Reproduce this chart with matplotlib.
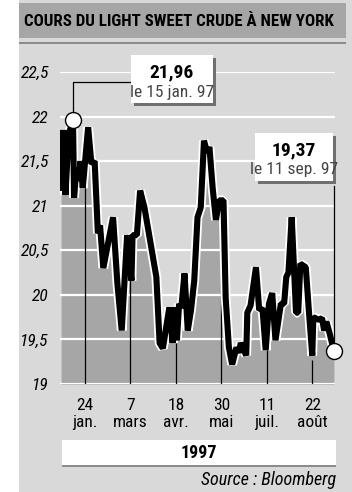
import matplotlib
matplotlib.use("Agg")
import matplotlib.pyplot as plt
import matplotlib.dates as mdates
import numpy as np
import pandas as pd
from matplotlib.patches import Rectangle
import logging
logging.getLogger("matplotlib.font_manager").setLevel(logging.ERROR)

# ---- data ----
dates = ["1997-01-02", "1997-01-04", "1997-01-06", "1997-01-09", "1997-01-13", "1997-01-14",
         "1997-01-16", "1997-01-18", "1997-01-20", "1997-01-22", "1997-01-27", "1997-01-30",
         "1997-02-02", "1997-02-05", "1997-02-07", "1997-02-10", "1997-02-19", "1997-02-23",
         "1997-02-27", "1997-03-04", "1997-03-08", "1997-03-09", "1997-03-13", "1997-03-16",
         "1997-03-20", "1997-03-31", "1997-04-03", "1997-04-06", "1997-04-12", "1997-04-15",
         "1997-04-17", "1997-04-19", "1997-04-21", "1997-04-23", "1997-04-26", "1997-04-29",
         "1997-05-02", "1997-05-05", "1997-05-08", "1997-05-11", "1997-05-14", "1997-05-17",
         "1997-05-19", "1997-05-22", "1997-05-25", "1997-05-28", "1997-06-01", "1997-06-03",
         "1997-06-06", "1997-06-09", "1997-06-13", "1997-06-15", "1997-06-17", "1997-06-22",
         "1997-06-23", "1997-06-26", "1997-07-01", "1997-07-04", "1997-07-07", "1997-07-10",
         "1997-07-13", "1997-07-16", "1997-07-19", "1997-07-24", "1997-07-27", "1997-07-29",
         "1997-07-31", "1997-08-03", "1997-08-07", "1997-08-09", "1997-08-11", "1997-08-16",
         "1997-08-19", "1997-08-22", "1997-08-23", "1997-08-28", "1997-08-31", "1997-09-02",
         "1997-09-04", "1997-09-07", "1997-09-11"]
prices = [21.20, 21.85, 21.12, 21.80, 21.96, 21.09,
          21.40, 21.28, 21.50, 21.20, 21.88, 21.47,
          21.50, 20.69, 20.78, 20.30, 20.87, 20.13,
          19.60, 20.67, 20.16, 20.67, 20.67, 21.17,
          20.98, 20.20, 19.46, 19.40, 19.86, 19.46,
          19.86, 19.49, 19.90, 19.85, 20.24, 19.60,
          19.83, 20.16, 20.87, 20.98, 21.73, 21.59,
          21.66, 21.20, 20.84, 21.06, 21.06, 19.97,
          19.41, 19.22, 19.41, 19.35, 19.46, 19.32,
          19.80, 19.88, 20.31, 19.83, 19.85, 19.38,
          19.90, 20.02, 19.49, 19.90, 19.90, 20.20,
          20.25, 20.87, 19.80, 19.80, 20.35, 20.31,
          19.80, 19.32, 19.75, 19.72, 19.74, 19.60,
          19.70, 19.57, 19.37]

tick_dates = ["1997-01-24", "1997-03-07", "1997-04-18", "1997-05-30", "1997-07-11", "1997-08-22"]
tick_labels = ["24\njan.", "7\nmars", "18\navr.", "30\nmai", "11\njuil.", "22\naoût"]
y_ticks = [19, 19.5, 20, 20.5, 21, 21.5, 22, 22.5]
y_labels = ["19", "19,5", "20", "20,5", "21", "21,5", "22", "22,5"]

max_date, max_val, max_text = "1997-01-13", 21.96, ("21,96", "le 15 jan. 97")
last_date, last_val, last_text = "1997-09-11", 19.37, ("19,37", "le 11 sep. 97")

title = "COURS DU LIGHT SWEET CRUDE À NEW YORK"
year_label = "1997"
source = "Source : Bloomberg"

# ---- style ----
FONT = ["Roboto Condensed", "Archivo Narrow", "PT Sans Narrow", "Liberation Sans Narrow",
        "DejaVu Sans"]
plt.rcParams["font.family"] = FONT
BG = "#d9d9d9"
DARK = "#a6a6a6"
W, H = 352, 492

fig = plt.figure(figsize=(W / 100, H / 100), dpi=100)
fig.patch.set_facecolor("white")

def fx(x):
    return x / W

def fy(y):
    return 1 - y / H

def frect(x0, y0, x1, y1, **kw):
    r = Rectangle((fx(x0), fy(y1)), fx(x1) - fx(x0), fy(y0) - fy(y1),
                  transform=fig.transFigure, **kw)
    fig.patches.append(r)
    return r

# background panel
frect(19, 0, 352, 492, facecolor=BG, edgecolor="none", zorder=-2)
# title bar
frect(19, 3, 346, 38, facecolor=DARK, edgecolor="none", zorder=-1)
fig.text(fx(179), fy(21), title, ha="center", va="center", fontsize=12.2,
         fontweight="bold", color="black", zorder=2)
frect(19, 42, 346, 44, facecolor="#8c8c8c", edgecolor="none", zorder=-1)

# plot axes
ax = fig.add_axes([fx(60), fy(384), fx(335) - fx(60), fy(72) - fy(384)])
ax.set_zorder(3)
ax.set_facecolor("none")
for s in ax.spines.values():
    s.set_visible(False)

d = pd.to_datetime(dates)
x = mdates.date2num(d)
y = np.array(prices)
ax.set_xlim(mdates.date2num(pd.Timestamp("1997-01-01")), mdates.date2num(pd.Timestamp("1997-09-12")))
ax.set_ylim(19, 22.5)

ax.fill_between(x, 19, y, color=DARK, lw=0, zorder=1)
for yt in y_ticks:
    ax.axhline(yt, color="white", lw=1.6, zorder=2)

tx = mdates.date2num(pd.to_datetime(tick_dates))
ty = np.interp(tx, x, y)
ax.vlines(tx, 19, ty - 0.05, color="black", lw=0.9, zorder=3)

ax.plot(x, y, color="white", lw=7.0, solid_joinstyle="bevel", zorder=4)
ax.plot(x, y, color="black", lw=4.4, solid_joinstyle="bevel", zorder=5)

mx = mdates.date2num(pd.Timestamp(max_date))
lx = mdates.date2num(pd.Timestamp(last_date))
ax.plot([mx], [max_val], "o", ms=11.5, mfc="white", mec="black", mew=1.0, zorder=7, clip_on=False)
ax.plot([lx], [last_val], "o", ms=11.5, mfc="white", mec="black", mew=1.0, zorder=7, clip_on=False)

ax.set_yticks(y_ticks)
ax.set_yticklabels(y_labels, fontstyle="italic", fontsize=12.5)
ax.set_xticks(tx)
ax.set_xticklabels(tick_labels, fontsize=12.5, linespacing=1.2)
ax.tick_params(length=0)
ax.tick_params(axis="x", pad=10)
ax.tick_params(axis="y", pad=8)

# callouts
fig.canvas.draw()
def to_px(xv, yv):
    disp = ax.transData.transform((xv, yv))
    return disp[0], H - disp[1]

cx1, cy1 = to_px(mx, max_val)
fig.lines.append(plt.Line2D([fx(cx1), fx(cx1), fx(131)], [fy(cy1 - 8), fy(82), fy(82)],
                            transform=fig.transFigure, color="black", lw=0.9, zorder=6))
cx2, cy2 = to_px(lx, last_val)
fig.lines.append(plt.Line2D([fx(cx2), fx(cx2)], [fy(186), fy(cy2 - 8)],
                            transform=fig.transFigure, color="black", lw=0.9, zorder=6))

def callout(x0, y0, x1, y1, big, small):
    frect(x0 + 3, y0 + 3, x1 + 3, y1 + 3, facecolor="#707070", edgecolor="none", zorder=8)
    frect(x0, y0, x1, y1, facecolor="white", edgecolor="none", zorder=9)
    cx = (x0 + x1) / 2
    fig.text(fx(cx), fy(y0 + 17), big, ha="center", va="center", fontsize=14,
             fontweight="bold", zorder=10)
    fig.text(fx(cx), fy(y0 + 37), small, ha="center", va="center", fontsize=12.5,
             color="#444444", zorder=10)

callout(131, 55, 213, 103, *max_text)
callout(255, 133, 333, 181, *last_text)

# year bar
frect(62, 442, 336, 467, facecolor="#8c8c8c", edgecolor="none", zorder=1)
frect(62, 440, 336, 465, facecolor="white", edgecolor="none", zorder=2)
fig.text(fx(199), fy(452.5), year_label, ha="center", va="center", fontsize=13,
         fontweight="bold", zorder=3)
fig.text(fx(336), fy(480), source, ha="right", va="center", fontsize=13,
         fontstyle="italic", zorder=3)

fig.savefig("out.png", dpi=100, facecolor=fig.get_facecolor())
